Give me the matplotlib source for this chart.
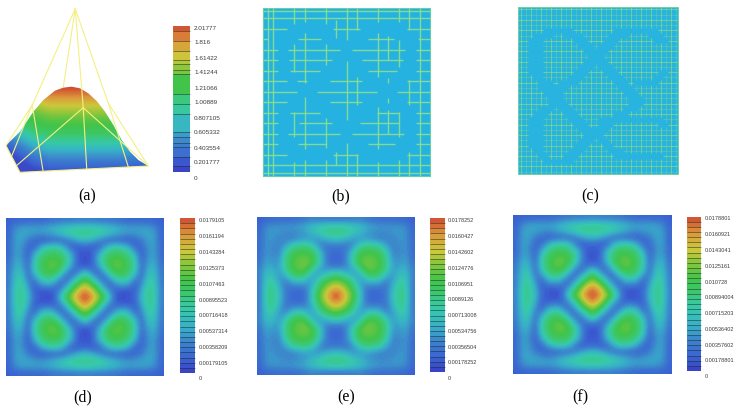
import numpy as np
import matplotlib
matplotlib.use("Agg")
import matplotlib.pyplot as plt
from matplotlib.colors import LinearSegmentedColormap
from matplotlib.collections import LineCollection
from matplotlib.patches import Polygon

# Colour scale shared by the surface plot and the solution fields
scale_stops = [0.0, 0.1, 0.2, 0.3, 0.4, 0.5, 0.6, 0.7, 0.8, 0.9, 1.0]
scale_colors = ["#3A3EC6", "#3A66D2", "#3C86CC", "#38AEC8", "#36C8AE", "#3CC878",
                "#40C44A", "#86C63C", "#CCC83A", "#DC983C", "#D04A30"]

# Silhouette of the hat-like solution in panel a (third-pixel view coordinates)
dome_edge_x = [18, 60, 100, 130, 165, 190, 215, 240, 265, 290, 315, 340, 365, 390, 415, 445, 60]
dome_edge_y = [436, 395, 335, 300, 272, 263, 260, 265, 280, 303, 335, 375, 420, 455, 480, 498, 517]
# Solution level against view height, and the shift of the bands across the dome
dome_row = [260, 285, 320, 350, 400, 440, 480, 520]
dome_level = [1.0, 0.92, 0.78, 0.66, 0.54, 0.36, 0.18, 0.04]
dome_col = [18, 60, 100, 150, 350, 445]
dome_shift = [70, 40, 15, 0, 0, 10]

# Coarse mesh above the surface: (u, v, height) pairs of wire ends
wire_apex = (0.485, 0.5, 4.3)
wire_front = (0.52, 0.25, 1.6)
wire_left = (0.15, 0.5, 1.55)
wire_right = (0.743, 0.5, 1.49)
wire_back = (0.425, 0.8, 1.8)
corner_fl = (0, 0, 0)
corner_fr = (1, 0, 0)
corner_bl = (0, 1, 0)
wires = [
    (wire_apex, wire_left), (wire_left, corner_bl), (wire_left, (0, 0.6, 0)),
    (wire_left, (0.18, 0, 0)), (wire_apex, wire_right), (wire_right, (0.844, 0, 0)),
    (wire_right, corner_fr), (wire_apex, wire_front), (wire_front, (0, 0.25, 0)),
    (wire_front, (0.52, 0, 0)), (wire_front, corner_fr), (corner_bl, corner_fl),
    (corner_fl, corner_fr),
]

# Mesh of panel b: line position -> spans, in coarse cell units
mesh_b_horizontal = {
    0.25: [(0, 16)], 1: [(0, 16)],
    2: [(0, 2.3), (6.75, 9.3), (13.75, 16)],
    3: [(0, 0.5), (3.4, 5.6), (10, 12.5), (14.8, 16)],
    4: [(0, 1.5), (2.45, 7.4), (8.5, 13.6), (14.6, 16)],
    5: [(0, 1.5), (2.55, 6.6), (9.5, 13.4), (14.6, 16)],
    6: [(0, 1.5), (2.6, 5.5), (10, 12.8), (14.6, 16)],
    7: [(0, 2.3), (3.25, 4.2), (6.4, 9.5), (13.75, 16)],
    8: [(0, 3.25), (5.2, 10.9), (12.8, 16)],
    9: [(0, 2.3), (6.4, 9.5), (13.75, 16)],
    10: [(0, 1.5), (2.6, 5.5), (10.9, 13), (14.6, 16)],
    11: [(0, 1.5), (3.5, 6.6), (9.3, 13), (14.6, 16)],
    12: [(0, 1.5), (2.45, 7.4), (8.5, 13.5), (14.6, 16)],
    13: [(0, 1.5), (3.4, 6), (10, 12.6), (14.6, 16)],
    14: [(0, 2.3), (6.75, 9.1), (13.75, 16)],
    15: [(0, 16)], 15.75: [(0, 16)],
}
mesh_b_vertical = {
    0.5: [(0, 16)], 1: [(0, 16)],
    3: [(0, 1.5), (3.4, 6.1), (9.9, 12.3), (14.7, 16)],
    4: [(0, 1.3), (2.4, 7.2), (8.5, 13.5), (14.5, 16)],
    6: [(0, 1.5), (3.4, 5.4), (10.5, 13.4), (14.5, 16)],
    7: [(1.1, 2.9), (13.7, 15)],
    8: [(0, 3.05), (5.1, 10.7), (12.9, 16)],
    9: [(0, 2.1), (6.55, 9.25), (13.9, 16)],
    11: [(0, 1.3), (2.4, 6.55), (9.4, 13.5), (14.7, 16)],
    12: [(2.7, 5), (6.7, 7.2), (8.6, 9.1), (9.7, 12)],
    13: [(0, 1.3), (3.05, 5.6), (9.9, 12.3), (14.5, 16)],
    14: [(0, 2.1), (6.9, 9.25), (13.7, 16)],
    15: [(0, 16)],
}

# Mesh of panel c: per row of the 32 x 32 grid, the unrefined column ranges
coarse_cells_c = [
    [], [], [], [],
    [(6, 10), (20, 27)],
    [(4, 6), (10, 12), (19, 21), (27, 28)],
    [(3, 4), (12, 13), (18, 19), (28, 29)],
    [(3, 4), (13, 14), (17, 18)],
    [(3, 4), (14, 15), (16, 17)],
    [(3, 4), (15, 16)],
    [(3, 4), (14, 17)],
    [(3, 4), (13, 14), (17, 18)],
    [(3, 4), (12, 13), (18, 19), (29, 29)],
    [(4, 4), (11, 12), (19, 20), (28, 28)],
    [(5, 6), (9, 11), (20, 21), (24, 27)],
    [(5, 9), (21, 22)],
    [(6, 8), (22, 23)],
    [(7, 8), (23, 24)],
    [(7, 9), (23, 24)],
    [(5, 6), (9, 10), (22, 23)],
    [(4, 5), (10, 11), (20, 21)],
    [(3, 4), (11, 12), (17, 28)],
    [(3, 4), (12, 13), (17, 18), (29, 29)],
    [(3, 4), (13, 17)],
    [(3, 4), (14, 16)],
    [(3, 4), (13, 14), (17, 17)],
    [(3, 4), (12, 13), (18, 18)],
    [(4, 4), (11, 12), (19, 20)],
    [(5, 5), (10, 11), (20, 28)],
    [(6, 10)],
    [], [],
]

# Quarter of each solution field, as a fraction of its maximum (edge to centre)
field_d = [
    [.09, .10, .11, .11, .11, .11, .13, .15, .16, .17, .17, .18, .18],
    [.10, .22, .26, .27, .27, .27, .29, .32, .35, .38, .40, .42, .42],
    [.11, .26, .29, .28, .25, .23, .26, .29, .35, .40, .44, .46, .46],
    [.11, .27, .28, .18, .12, .08, .09, .12, .11, .15, .24, .32, .35],
    [.11, .27, .25, .12, .10, .28, .38, .40, .38, .22, .08, .10, .12],
    [.11, .27, .23, .08, .28, .44, .52, .54, .52, .42, .25, .06, .07],
    [.13, .29, .26, .09, .38, .52, .60, .62, .60, .48, .30, .07, .05],
    [.15, .32, .29, .12, .40, .54, .62, .65, .60, .46, .25, .08, .06],
    [.16, .35, .35, .11, .38, .52, .60, .60, .50, .28, .10, .20, .35],
    [.17, .38, .40, .15, .22, .42, .48, .46, .28, .10, .22, .42, .58],
    [.17, .40, .44, .24, .08, .25, .30, .25, .10, .22, .45, .62, .75],
    [.18, .42, .46, .32, .10, .06, .07, .08, .20, .42, .62, .82, .93],
    [.18, .42, .46, .35, .12, .07, .05, .06, .35, .58, .75, .93, 1.0],
]
field_e = [
    [.09, .11, .12, .13, .13, .13, .14, .16, .19, .19, .18, .18, .18],
    [.11, .22, .24, .24, .24, .25, .27, .30, .35, .39, .42, .44, .44],
    [.12, .24, .25, .24, .22, .21, .22, .26, .32, .38, .44, .47, .48],
    [.13, .24, .24, .20, .18, .20, .24, .26, .26, .24, .30, .34, .37],
    [.13, .24, .22, .18, .28, .40, .46, .48, .44, .28, .16, .17, .18],
    [.13, .25, .21, .20, .40, .54, .59, .60, .57, .44, .24, .13, .12],
    [.14, .27, .22, .24, .46, .59, .63, .65, .63, .50, .28, .12, .10],
    [.16, .30, .26, .26, .48, .60, .65, .67, .63, .46, .26, .14, .12],
    [.19, .35, .32, .26, .44, .57, .63, .63, .48, .28, .26, .30, .34],
    [.19, .39, .38, .24, .28, .44, .50, .46, .28, .30, .44, .52, .56],
    [.18, .42, .44, .30, .16, .24, .28, .26, .26, .44, .58, .68, .74],
    [.18, .44, .47, .34, .17, .13, .12, .14, .30, .52, .68, .82, .92],
    [.18, .44, .48, .37, .18, .12, .10, .12, .34, .56, .74, .92, 1.0],
]
field_f = [
    [.09, .10, .11, .11, .11, .11, .13, .15, .17, .18, .18, .19, .19],
    [.10, .22, .26, .27, .27, .27, .29, .33, .36, .39, .41, .43, .43],
    [.11, .26, .29, .28, .25, .23, .26, .30, .36, .41, .45, .46, .46],
    [.11, .27, .28, .18, .12, .09, .10, .13, .12, .16, .25, .32, .35],
    [.11, .27, .25, .12, .11, .29, .39, .41, .39, .23, .09, .10, .12],
    [.11, .27, .23, .09, .29, .45, .53, .55, .53, .43, .26, .07, .08],
    [.13, .29, .26, .10, .39, .53, .61, .63, .61, .49, .31, .08, .06],
    [.15, .33, .30, .13, .41, .55, .63, .66, .61, .47, .26, .09, .07],
    [.17, .36, .36, .12, .39, .53, .61, .61, .51, .29, .11, .21, .36],
    [.18, .39, .41, .16, .23, .43, .49, .47, .29, .11, .23, .43, .59],
    [.18, .41, .45, .25, .09, .26, .31, .26, .11, .23, .46, .63, .76],
    [.19, .43, .46, .32, .10, .07, .08, .09, .21, .43, .63, .83, .94],
    [.19, .43, .46, .35, .12, .08, .06, .07, .36, .59, .76, .94, 1.0],
]

# Colour bar annotations
labels_a = ["2.01777", "1.816", "1.61422", "1.41244", "1.21066", "1.00889",
            "0.807105", "0.605332", "0.403554", "0.201777", "0"]
labels_d = ["0.0179105", "0.0161194", "0.0143284", "0.0125373", "0.0107463",
            "0.00895523", "0.00716418", "0.00537314", "0.00358209", "0.00179105", "0"]
labels_e = ["0.0178252", "0.0160427", "0.0142602", "0.0124776", "0.0106951",
            "0.0089126", "0.00713008", "0.00534756", "0.00356504", "0.00178252", "0"]
labels_f = ["0.0178801", "0.0160921", "0.0143041", "0.0125161", "0.010728",
            "0.00894004", "0.00715203", "0.00536402", "0.00357602", "0.00178801", "0"]
# Irregular contour levels of the panel (a) bar, as a fraction of its height
levels_a = [0, .037, .101, .165, .197, .238, .273, .398, .467, .531, .669, .701,
            .736, .766, .830, .899, .968, 1]
captions = ["(a)", "(b)", "(c)", "(d)", "(e)", "(f)"]

plt.rcParams["font.family"] = ["Liberation Sans", "DejaVu Sans"]
cmap = LinearSegmentedColormap.from_list("solution", list(zip(scale_stops, scale_colors)), N=64)

fig = plt.figure(figsize=(7.4, 4.09), dpi=100, facecolor="white")
ax = fig.add_axes([0, 0, 1, 1])
ax.set_axis_off()


def project(u, v, z):
    """Oblique view of the unit square with height z, in figure pixels."""
    u, v, z = np.asarray(u, float), np.asarray(v, float), np.asarray(z, float)
    x = (60 + 385 * u - 42 * v) / 3
    y = (517 - 19 * u - 80 * v - 102.6 * z) / 3
    return x, y


def draw_field(quarter, left, top, size):
    top_half = np.hstack([np.array(quarter), np.array(quarter)[:, -2::-1]])
    full = np.vstack([top_half, top_half[-2::-1]])
    ax.imshow(full, cmap=cmap, vmin=0, vmax=1, interpolation="bicubic", aspect="auto",
              extent=(left, left + size, top + size, top), zorder=1)


def draw_bar(levels, left, top, right, bottom, labels, label_x, first_y, last_y, fontsize):
    levels = np.asarray(levels, float)
    mids = (levels[:-1] + levels[1:]) / 2
    ys = bottom - levels * (bottom - top)
    ax.pcolormesh([left, right], ys, mids[:, None], cmap=cmap, vmin=0, vmax=1,
                  shading="flat", zorder=1)
    ax.hlines(ys[1:-1], left, right, color="#1c2a22", lw=0.5, alpha=0.7, zorder=2)
    for text, y in zip(labels, np.linspace(first_y, last_y, len(labels))):
        ax.text(label_x, y, text, fontsize=fontsize, color="#3c3c3c", va="center", ha="left")


# Panel a: shaded dome, coarse wire mesh and colour bar
rows = np.arange(255, 522, 2.0)
cols = np.arange(10, 452, 2.0)
shift = np.interp(cols, dome_col, dome_shift)
shade = np.interp(rows[:, None] + shift[None, :], dome_row, dome_level)
dome = ax.imshow(shade, cmap=cmap, vmin=0, vmax=1, aspect="auto", interpolation="bilinear",
                 extent=(cols[0] / 3, cols[-1] / 3, rows[-1] / 3, rows[0] / 3), zorder=3)
outline = Polygon(np.c_[dome_edge_x, dome_edge_y] / 3, closed=True, transform=ax.transData)
dome.set_clip_path(outline)

xs, ys = project(*np.array([wire_apex, wire_back]).T)
ax.plot(xs, ys, color="#F4F084", lw=0.8, zorder=2)
for wire in wires:
    xs, ys = project(*np.array(wire).T)
    ax.plot(xs, ys, color="#F4F084", lw=0.8, zorder=4, solid_capstyle="round")
draw_bar(levels_a, 173, 26, 189.5, 171.5, labels_a, 194, 28, 178, 4.6)


# Panel b: adaptive mesh over a flat blue field
def mesh_segments(horizontal, vertical, left, top, cell):
    segments = []
    for pos, spans in horizontal.items():
        for a, b in spans:
            segments.append([(left + a * cell, top + pos * cell), (left + b * cell, top + pos * cell)])
    for pos, spans in vertical.items():
        for a, b in spans:
            segments.append([(left + pos * cell, top + a * cell), (left + pos * cell, top + b * cell)])
    return segments


ax.add_patch(plt.Rectangle((262.7, 8), 167.7, 167.7, facecolor="#25B2E0", edgecolor="#62CDB0",
                           lw=0.8, zorder=1))
ax.add_collection(LineCollection(mesh_segments(mesh_b_horizontal, mesh_b_vertical, 262.7, 8, 10.48),
                                 colors="#8CE08C", linewidths=1.0, alpha=0.9, zorder=2))

# Panel c: refined cells carry a fine grid, coarse cells stay blue
n_cells = len(coarse_cells_c)
cell_w = 160 / n_cells
cell_h = 167.5 / n_cells
left_c, top_c = 518.3, 6.8
coarse = np.zeros((n_cells, n_cells), bool)
for row, spans in enumerate(coarse_cells_c):
    for a, b in spans:
        coarse[row, a:b + 1] = True
# the coarse bands are one cell wider than the listed ranges
coarse[:, :-1] |= coarse[:, 1:].copy()
ax.add_patch(plt.Rectangle((left_c, top_c), 160, 167.5, facecolor="#28B4DE", edgecolor="#62CDB0",
                           lw=0.6, zorder=1))
for step, alpha in ((0, 0.8), (1, 0.35)):
    segments_c = []
    for row in range(n_cells):
        for col in range(n_cells):
            if coarse[row, col]:
                continue
            x0 = left_c + col * cell_w
            y0 = top_c + row * cell_h
            if row % 2 == step:
                segments_c.append([(x0, y0 + cell_h / 2), (x0 + cell_w, y0 + cell_h / 2)])
            if col % 2 == step:
                segments_c.append([(x0 + cell_w / 2, y0), (x0 + cell_w / 2, y0 + cell_h)])
    ax.add_collection(LineCollection(segments_c, colors="#84D884", linewidths=0.7, alpha=alpha, zorder=2))

# Panels d, e, f: fields with 30-band colour bars
bands = np.linspace(0, 1, 31)
draw_field(field_d, 6, 218, 158)
draw_bar(bands, 180, 218, 194.5, 373, labels_d, 198.5, 221, 379, 4.0)
draw_field(field_e, 256.5, 217.5, 158)
draw_bar(bands, 430, 218, 444.5, 372, labels_e, 448, 221, 378.7, 4.0)
draw_field(field_f, 512.5, 215.5, 159)
draw_bar(bands, 686.5, 216.5, 701, 371, labels_f, 705, 219, 376.7, 4.0)

caption_xy = [(87, 196), (341, 196), (590, 196), (83, 397), (346, 397), (580, 397)]
for text, (x, y) in zip(captions, caption_xy):
    ax.text(x, y, text, family="Liberation Serif", fontsize=11.5, color="black", ha="center", va="center")

ax.set_xlim(0, 740)
ax.set_ylim(409, 0)
fig.savefig("out.png", dpi=100)
